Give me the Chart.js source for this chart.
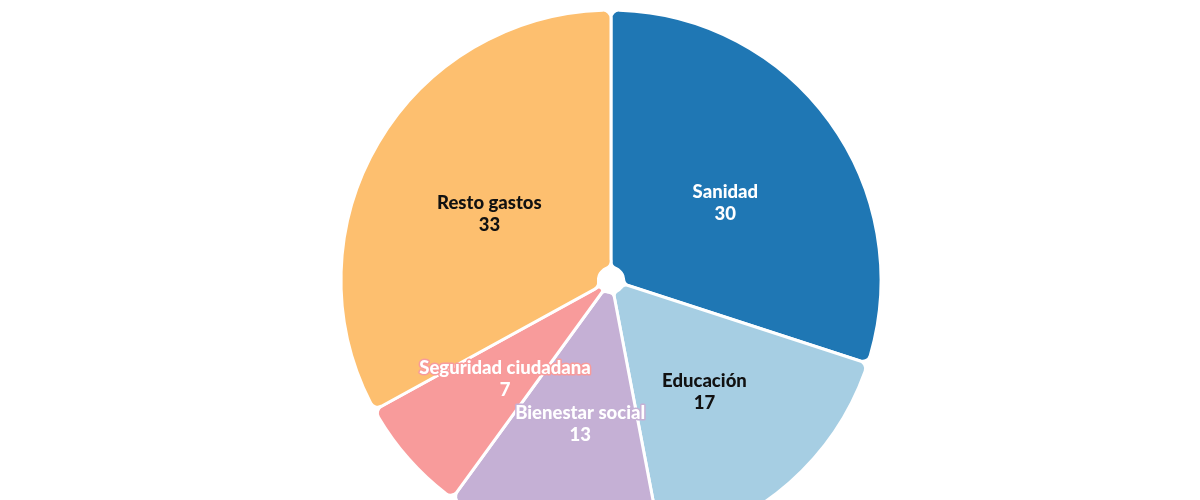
<!DOCTYPE html>
<html>
<head>
<meta charset="utf-8">
<script src="https://cdn.jsdelivr.net/npm/chart.js@4/dist/chart.umd.min.js"></script>
<style>
html,body{margin:0;padding:0;background:#fff;overflow:hidden;}
#wrap{width:1200px;height:560px;position:relative;}
</style>
</head>
<body>
<div id="wrap"><canvas id="c"></canvas></div>
<script>
const categories = ["Sanidad", "Educación", "Bienestar social", "Seguridad ciudadana", "Resto gastos"];
const values = [30, 17, 13, 7, 33];
const sliceColors = ["#1f77b4", "#a6cee3", "#c5b0d5", "#f89b9b", "#fdbf6f"];
const labelColors = ["#ffffff", "#111111", "#ffffff", "#ffffff", "#111111"];
const labelHalo = [false, false, true, true, false];

const labelPlugin = {
  id: 'sliceLabels',
  afterDatasetsDraw(chart) {
    const ctx = chart.ctx;
    const meta = chart.getDatasetMeta(0);
    ctx.save();
    ctx.font = '900 18.5px Lato, "Noto Sans", sans-serif';
    ctx.textAlign = 'center';
    ctx.textBaseline = 'middle';
    ctx.lineJoin = 'round';
    meta.data.forEach((arc, i) => {
      const p = arc.tooltipPosition();
      const lines = [categories[i], String(values[i])];
      lines.forEach((t, k) => {
        const y = p.y - 5 + k * 22;
        if (labelHalo[i]) {
          ctx.strokeStyle = sliceColors[i];
          ctx.lineWidth = 3;
          ctx.strokeText(t, p.x, y);
        }
        ctx.fillStyle = labelColors[i];
        ctx.fillText(t, p.x, y);
      });
    });
    ctx.restore();
  }
};

new Chart(document.getElementById('c'), {
  type: 'doughnut',
  data: {
    labels: categories,
    datasets: [{
      data: values,
      backgroundColor: sliceColors,
      borderColor: '#ffffff',
      borderWidth: 3,
      borderRadius: 8,
      hoverOffset: 0
    }]
  },
  options: {
    responsive: true,
    maintainAspectRatio: false,
    animation: false,
    radius: 270,
    cutout: 13,
    layout: { padding: { left: 22, right: 0, top: 0, bottom: 0 } },
    plugins: { legend: { display: false }, tooltip: { enabled: false } }
  },
  plugins: [labelPlugin]
});
</script>
</body>
</html>
